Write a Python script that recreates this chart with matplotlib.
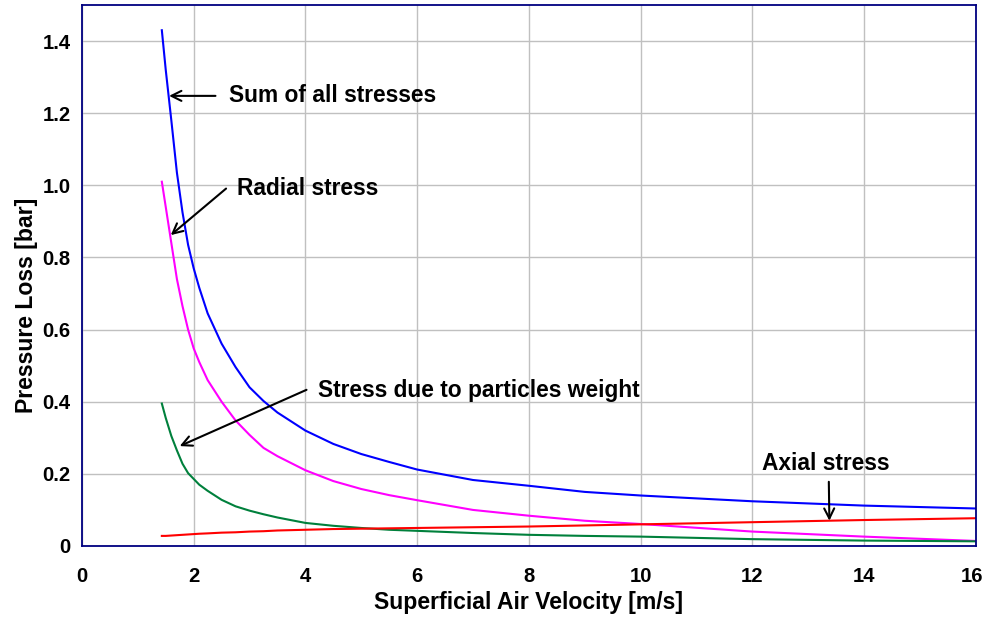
import matplotlib
matplotlib.use('Agg')
import matplotlib.pyplot as plt
import matplotlib.transforms as mtransforms

plt.rcParams['font.family'] = ['Liberation Sans', 'DejaVu Sans']
plt.rcParams['font.weight'] = 'bold'

# superficial air velocity [m/s]
velocity = [1.43, 1.5, 1.6, 1.7, 1.8, 1.9, 2.0, 2.1, 2.25, 2.5, 2.75, 3.0, 3.25, 3.5, 4.0, 4.5, 5.0, 5.5,
            6.0, 7.0, 8.0, 9.0, 10.0, 12.0, 14.0, 16.0]

# pressure loss [bar]
sum_stress = [1.43, 1.32, 1.18, 1.035, 0.925, 0.835, 0.77, 0.716, 0.645, 0.561, 0.496, 0.44, 0.402, 0.37, 0.32,
              0.283, 0.255, 0.233, 0.212, 0.183, 0.167, 0.15, 0.14, 0.124, 0.112, 0.104]
radial_stress = [1.01, 0.94, 0.84, 0.74, 0.665, 0.60, 0.548, 0.51, 0.46, 0.40, 0.348, 0.308, 0.272, 0.249, 0.21,
                 0.18, 0.158, 0.141, 0.127, 0.10, 0.084, 0.07, 0.061, 0.04, 0.026, 0.014]
weight_stress = [0.395, 0.355, 0.305, 0.265, 0.228, 0.202, 0.186, 0.17, 0.153, 0.128, 0.11, 0.098, 0.088, 0.079,
                 0.064, 0.056, 0.05, 0.045, 0.042, 0.036, 0.031, 0.028, 0.026, 0.019, 0.015, 0.013]
axial_stress = [0.028, 0.028, 0.029, 0.03, 0.031, 0.032, 0.033, 0.034, 0.035, 0.037, 0.038, 0.04, 0.041, 0.043,
                0.045, 0.047, 0.048, 0.049, 0.05, 0.052, 0.054, 0.057, 0.06, 0.066, 0.072, 0.077]

x_ticks = [0, 2, 4, 6, 8, 10, 12, 14, 16]
y_ticks = [0, 0.2, 0.4, 0.6, 0.8, 1.0, 1.2, 1.4]
y_tick_labels = ['0', '0.2', '0.4', '0.6', '0.8', '1.0', '1.2', '1.4']

fig = plt.figure(figsize=(9.85, 6.23), dpi=100)
ax = fig.add_axes([0.0832, 0.1236, 0.9074, 0.8684])

ax.plot(velocity, sum_stress, color='#0000ff', lw=1.5)
ax.plot(velocity, radial_stress, color='#ff00ff', lw=1.5)
ax.plot(velocity, weight_stress, color='#00803c', lw=1.5)
ax.plot(velocity, axial_stress, color='#ff0000', lw=1.5)

ax.set_xlim(0, 16)
ax.set_ylim(0, 1.5)
ax.set_xticks(x_ticks)
ax.set_yticks(y_ticks)
ax.set_yticklabels(y_tick_labels)
ax.tick_params(length=0, labelsize=14.6)
ax.tick_params(axis='x', pad=15)
ax.tick_params(axis='y', pad=8)
ax.grid(True, color='#c0c0c0', lw=1)
ax.set_axisbelow(True)
for s in ax.spines.values():
    s.set_color('#000080')
    s.set_linewidth(1.3)

# last x tick label sits right at the figure edge, nudge it in a little
last = ax.get_xticklabels()[-1]
last.set_transform(last.get_transform() + mtransforms.ScaledTranslation(-4 / 100, 0, fig.dpi_scale_trans))

ax.set_xlabel('Superficial Air Velocity [m/s]', fontsize=16.6, fontweight='bold', va='center')
ax.xaxis.set_label_coords(0.5, -0.104)
ax.set_ylabel('Pressure Loss [bar]', fontsize=16.6, fontweight='bold', va='center')
ax.yaxis.set_label_coords(-0.0625, 0.445)

arrow = dict(arrowstyle='->', color='black', lw=1.5, mutation_scale=18, shrinkA=0, shrinkB=0)
ax.annotate('', xy=(1.56, 1.248), xytext=(2.39, 1.248), arrowprops=arrow)
ax.text(2.63, 1.25, 'Sum of all stresses', fontsize=16.4, fontweight='bold', va='center')
ax.annotate('', xy=(1.59, 0.862), xytext=(2.58, 0.991), arrowprops=arrow)
ax.text(2.78, 0.99, 'Radial stress', fontsize=16.4, fontweight='bold', va='center')
ax.annotate('', xy=(1.75, 0.277), xytext=(4.02, 0.433), arrowprops=arrow)
ax.text(4.23, 0.432, 'Stress due to particles weight', fontsize=16.4, fontweight='bold', va='center')
ax.annotate('', xy=(13.38, 0.07), xytext=(13.37, 0.178), arrowprops=arrow)
ax.text(12.17, 0.229, 'Axial stress', fontsize=16.4, fontweight='bold', va='center')

fig.savefig('out.png', dpi=100)
